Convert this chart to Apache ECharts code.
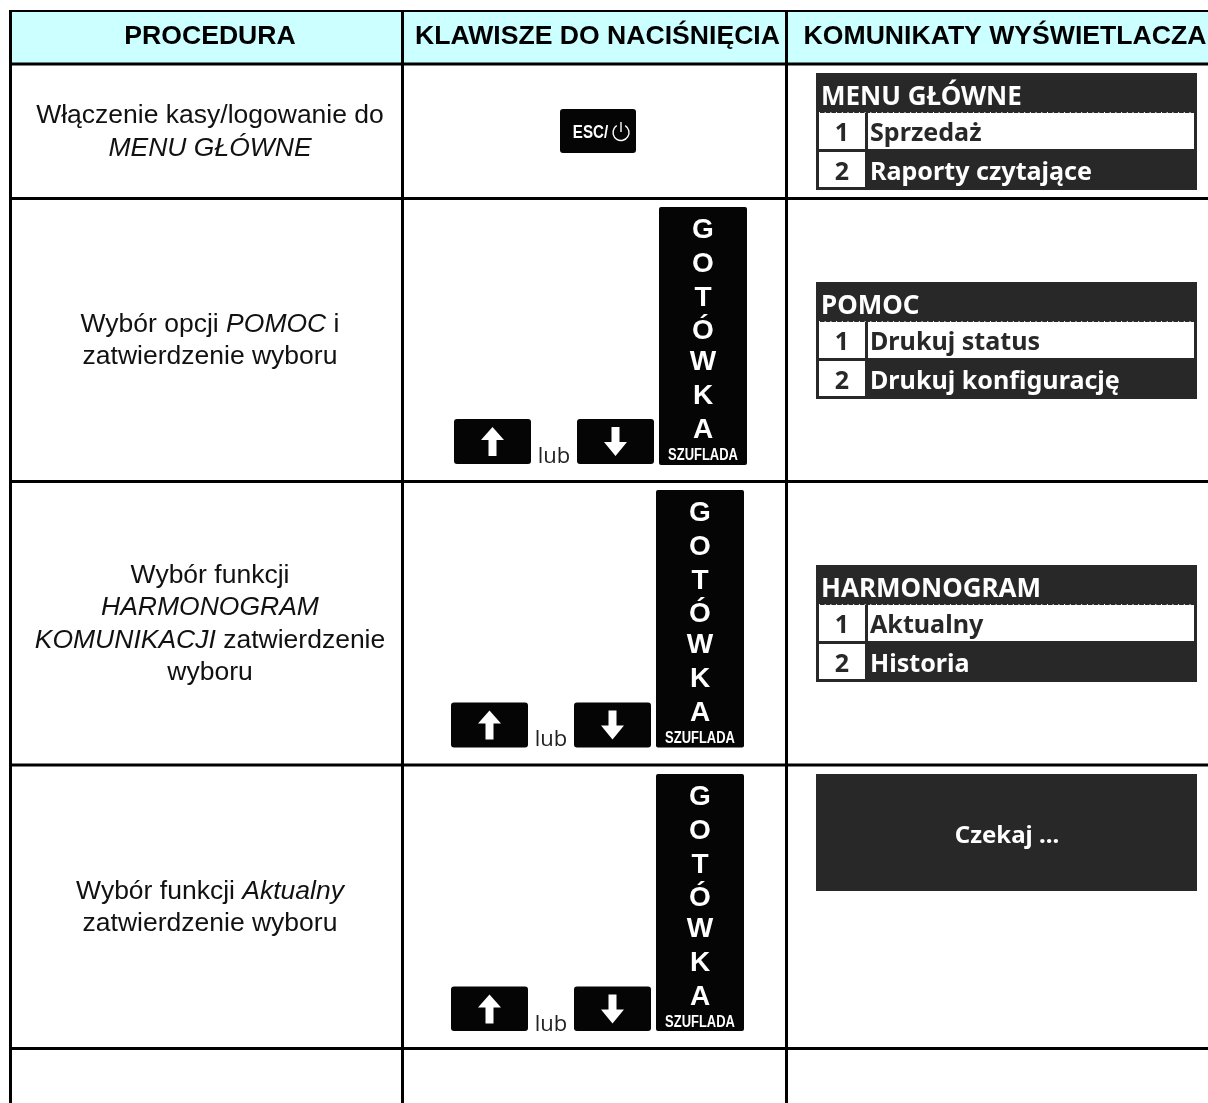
<!DOCTYPE html>
<html>
<head>
<meta charset="utf-8">
<style>html,body{margin:0;padding:0;background:#fff}#c{width:1208px;height:1103px}</style>
<script src="https://cdn.jsdelivr.net/npm/echarts@6/dist/echarts.min.js"></script>
</head>
<body>
<div id="c"></div>
<script>
// ---- content ----
const headers = ['PROCEDURA', 'KLAWISZE DO NACIŚNIĘCIA', 'KOMUNIKATY WYŚWIETLACZA'];
const procedures = [
  'Włączenie kasy/logowanie do\n{i|MENU GŁÓWNE}',
  'Wybór opcji {i|POMOC} i\nzatwierdzenie wyboru',
  'Wybór funkcji\n{i|HARMONOGRAM}\n{i|KOMUNIKACJI} zatwierdzenie\nwyboru',
  'Wybór funkcji {i|Aktualny}\nzatwierdzenie wyboru'
];
const panelTitles = ['MENU GŁÓWNE', 'POMOC', 'HARMONOGRAM', ''];
const panelFirst = ['Sprzedaż', 'Drukuj status', 'Aktualny', ''];
const panelSecond = ['Raporty czytające', 'Drukuj konfigurację', 'Historia', ''];
const panelNumbers = ['1', '2'];
const waitMessage = 'Czekaj ...';
const escLabel = 'ESC/';
const orLabel = 'lub';
const drawerLetters = ['G', 'O', 'T', 'Ó', 'W', 'K', 'A'];
const drawerCaption = 'SZUFLADA';

// ---- table layout (axis units equal page pixels) ----
const rowLines = [64, 198.5, 481.5, 765, 1048.5];
const colLines = [10.5, 402.5, 786.5];
const panelTops = [73, 282, 565, 774];
const keyRows = [
  null,
  {dx: 0, drawerTop: 207, drawerBottom: 465, keyTop: 419, keyBottom: 464, orY: 457},
  {dx: -3, drawerTop: 490, drawerBottom: 747.5, keyTop: 702.5, keyBottom: 747.5, orY: 739.5},
  {dx: -3, drawerTop: 774, drawerBottom: 1031, keyTop: 986.5, keyBottom: 1031, orY: 1024.5}
];
const letterOffsets = [21, 55, 89, 122, 153, 187, 221];
const procTextX = 210;
const sans = '"Liberation Sans", Arial, sans-serif';
const disp = '"Noto Sans", sans-serif';
const DARK = '#282828';

function renderTable(params, api) {
  const P = (x, y) => api.coord([x, y]);
  const rect = (x0, y0, x1, y1, fill, r) => {
    const a = P(x0, y0), b = P(x1, y1);
    return {type: 'rect', shape: {x: a[0], y: a[1], width: b[0] - a[0], height: b[1] - a[1], r: r || 0}, style: {fill}};
  };
  const text = (s, x, y, o) => {
    const a = P(x, y);
    return {type: 'text', x: a[0], y: a[1], style: Object.assign({
      text: s, align: 'center', verticalAlign: 'middle', fill: '#000', fontFamily: sans, fontSize: 24
    }, o || {})};
  };
  const kids = [];

  // header band
  kids.push(rect(9, 11, 1208, 64, '#CCFFFF'));

  // rules
  colLines.forEach(x => kids.push(rect(x - 1.5, 10, x + 1.5, 1103, '#000')));
  kids.push(rect(9, 10, 1208, 12, '#000'));
  rowLines.forEach(y => kids.push(rect(9, y - 1.5, 1208, y + 1.5, '#000')));

  // header text
  const hx = [210, 597.5, 1005];
  headers.forEach((h, i) => kids.push(text(h, hx[i], 37, {fontSize: 26.6, fontWeight: 'bold'})));

  // procedure column
  procedures.forEach((p, i) => {
    kids.push(text(p, procTextX, (rowLines[i] + rowLines[i + 1]) / 2 + 1, {
      fontSize: 26.5, lineHeight: 32.3, fill: '#111',
      rich: {i: {fontStyle: 'italic', fontSize: 26.5, fontFamily: sans, lineHeight: 32.3, fill: '#111'}}
    }));
  });

  // ESC key
  kids.push(rect(560, 109, 636, 153, '#050505', 3));
  const esc = text(escLabel, 590.5, 133, {fontSize: 18, fontWeight: 'bold', fill: '#fff'});
  esc.scaleX = 0.84;
  kids.push(esc);
  const pc = P(621, 132.5);
  kids.push({type: 'arc', shape: {cx: pc[0], cy: pc[1], r: 8, startAngle: -Math.PI / 2 + 0.55, endAngle: -Math.PI / 2 - 0.55 + 2 * Math.PI, clockwise: true},
    style: {stroke: '#fff', fill: null, lineWidth: 1.4}});
  kids.push(rect(620.3, 122, 621.7, 132, '#fff'));

  // arrow / drawer keys
  keyRows.forEach(k => {
    if (!k) return;
    const d = k.dx;
    // up
    kids.push(rect(454 + d, k.keyTop, 531 + d, k.keyBottom, '#050505', 3));
    const uc = P(492.5 + d, k.keyTop);
    kids.push({type: 'polygon', shape: {points: [[0, 8], [11.5, 21], [4, 21], [4, 37], [-4, 37], [-4, 21], [-11.5, 21]].map(p => [uc[0] + p[0], uc[1] + p[1]])}, style: {fill: '#fff'}});
    // lub
    kids.push(text(orLabel, 554 + d, k.orY, {fontFamily: '"Open Sans", sans-serif', fontSize: 22, fill: '#222'}));
    // down
    kids.push(rect(577 + d, k.keyTop, 654 + d, k.keyBottom, '#050505', 3));
    const dc = P(615.5 + d, k.keyTop);
    kids.push({type: 'polygon', shape: {points: [[-4, 8], [4, 8], [4, 23], [11.5, 23], [0, 37], [-11.5, 23], [-4, 23]].map(p => [dc[0] + p[0], dc[1] + p[1]])}, style: {fill: '#fff'}});
    // drawer
    kids.push(rect(659 + d, k.drawerTop, 747 + d, k.drawerBottom, '#050505', 2));
    drawerLetters.forEach((l, j) => kids.push(text(l, 703 + d, k.drawerTop + letterOffsets[j] + 2, {fontSize: 28, fontWeight: 'bold', fill: '#fff'})));
    const cap = text(drawerCaption, 703 + d, k.drawerTop + 248.5, {fontSize: 16, fontWeight: 'bold', fill: '#fff'});
    cap.scaleX = 0.81;
    kids.push(cap);
  });

  // display panels
  panelTops.forEach((t, i) => {
    kids.push(rect(816, t, 1197, t + 117, DARK));
    if (i === 3) {
      kids.push(text(waitMessage, 1007, t + 62, {fontFamily: disp, fontWeight: 'bold', fontSize: 24, fill: '#fff'}));
      return;
    }
    kids.push(text(panelTitles[i], 821, t + 25, {fontFamily: disp, fontWeight: 'bold', fontSize: 26, fill: '#fff', align: 'left'}));
    const a = P(819, t + 39.5), b = P(1194, t + 39.5);
    kids.push({type: 'line', shape: {x1: a[0], y1: a[1], x2: b[0], y2: b[1]}, style: {stroke: '#fff', lineWidth: 1, lineDash: [1, 4.7]}});
    kids.push(rect(819, t + 40, 865, t + 76, '#fff'));
    kids.push(rect(868, t + 40, 1194, t + 76, '#fff'));
    kids.push(rect(819, t + 79, 865, t + 114, '#fff'));
    kids.push(text(panelNumbers[0], 842, t + 61, {fontFamily: disp, fontWeight: 'bold', fontSize: 25, fill: DARK}));
    kids.push(text(panelNumbers[1], 842, t + 100, {fontFamily: disp, fontWeight: 'bold', fontSize: 25, fill: DARK}));
    kids.push(text(panelFirst[i], 870, t + 61, {fontFamily: disp, fontWeight: 'bold', fontSize: 25.1, fill: DARK, align: 'left'}));
    kids.push(text(panelSecond[i], 870, t + 100, {fontFamily: disp, fontWeight: 'bold', fontSize: 25.1, fill: '#fff', align: 'left'}));
  });

  return {type: 'group', children: kids};
}

const chart = echarts.init(document.getElementById('c'), null, {renderer: 'canvas'});
chart.setOption({
  animation: false,
  backgroundColor: '#fff',
  grid: {left: 0, right: 0, top: 0, bottom: 0},
  xAxis: {type: 'value', min: 0, max: 1208, show: false},
  yAxis: {type: 'value', min: 0, max: 1103, inverse: true, show: false},
  series: [{type: 'custom', coordinateSystem: 'cartesian2d', clip: false, silent: true, data: [[0, 0]], renderItem: renderTable}]
});
</script>
</body>
</html>
